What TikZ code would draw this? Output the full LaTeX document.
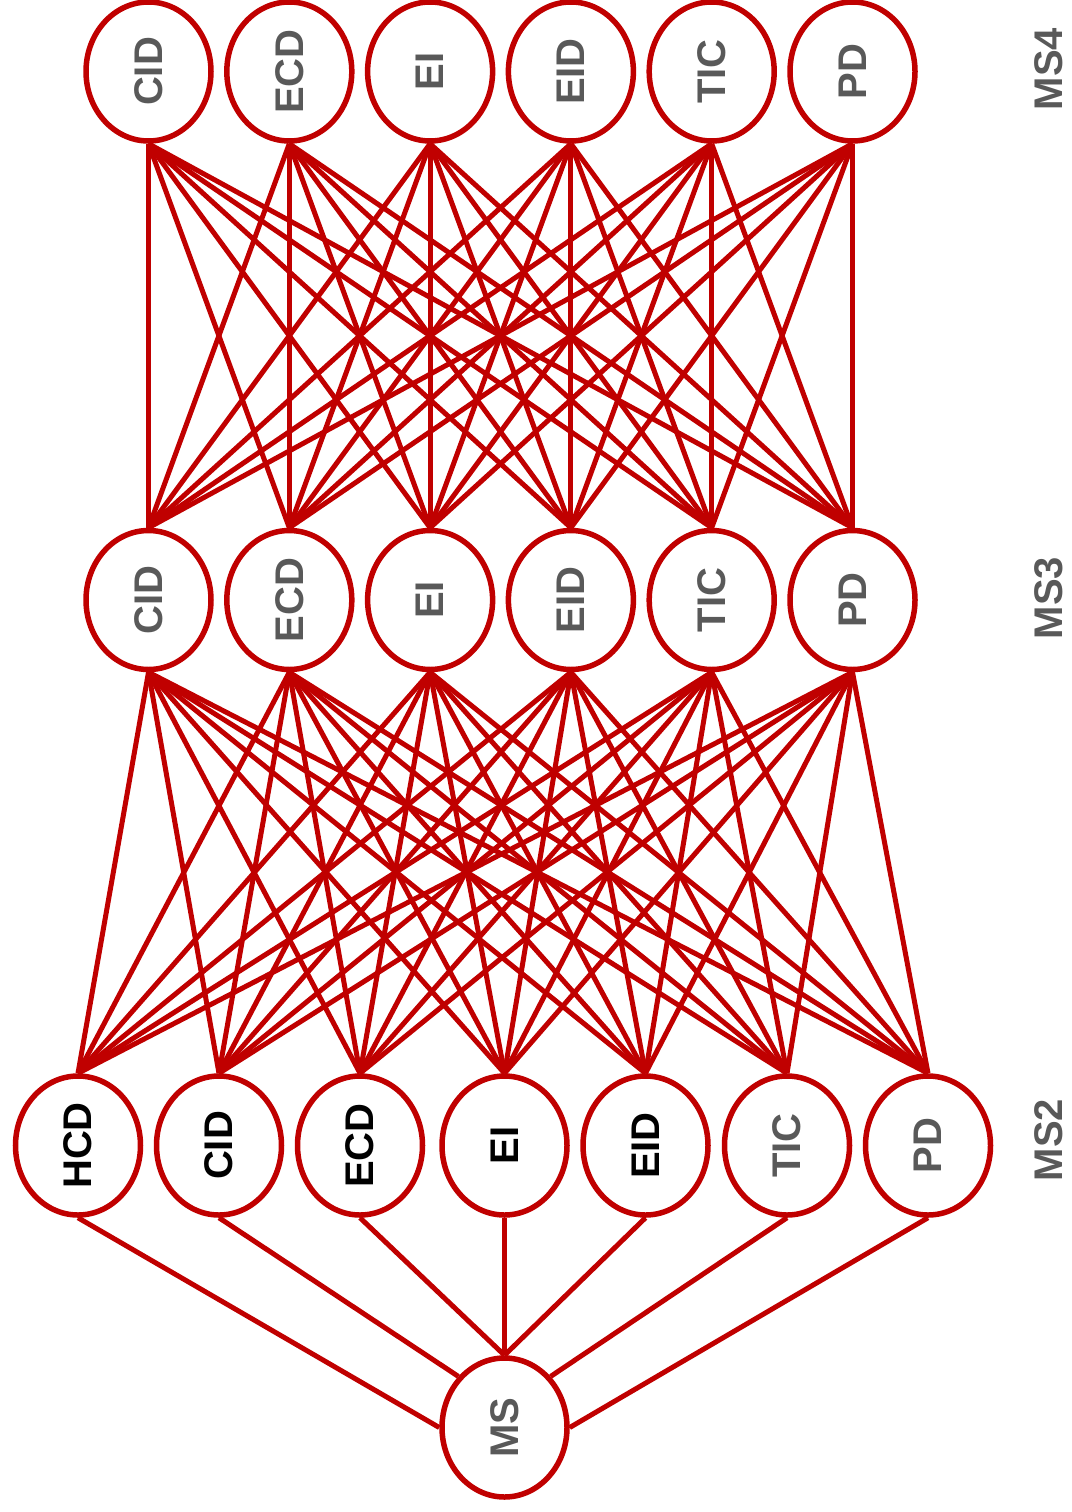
\documentclass[tikz,border=0pt]{standalone}
\usepackage{fontspec}
\setmainfont{Liberation Sans}
\usetikzlibrary{shapes.geometric}
\definecolor{myred}{RGB}{192,0,0}
\definecolor{mygrey}{RGB}{89,89,89}
\begin{document}
\begin{tikzpicture}[x=1pt,y=-1pt,
  nd/.style={ellipse, draw=myred, line width=5.5pt, fill=white,
    minimum width=125pt, minimum height=139pt, inner sep=0pt,
    text=mygrey, font=\fontsize{40}{48}\selectfont\bfseries},
  blk/.style={text=black},
  lk/.style={draw=myred, line width=5pt},
  lab/.style={inner sep=0pt, text=mygrey, font=\fontsize{40}{48}\selectfont\bfseries}
]
\useasboundingbox (0,0) rectangle (1071,1512);

% MS4 row
\foreach \i/\t in {1/CID,2/ECD,3/EI,4/EID,5/TIC,6/PD}{
  \node[nd] (t\i) at ({148.5+140.8*(\i-1)},71.5) {\rotatebox{90}{\t}};
}
% MS3 row
\foreach \i/\t in {1/CID,2/ECD,3/EI,4/EID,5/TIC,6/PD}{
  \node[nd] (m\i) at ({148.5+140.8*(\i-1)},600) {\rotatebox{90}{\t}};
}
% MS2 row
\node[nd,blk] (b1) at (78,1145.5) {\rotatebox{90}{HCD}};
\node[nd,blk] (b2) at (219,1145.5) {\rotatebox{90}{CID}};
\node[nd,blk] (b3) at (360,1145.5) {\rotatebox{90}{ECD}};
\node[nd,blk] (b4) at (504.5,1145.5) {\rotatebox{90}{EI}};
\node[nd,blk] (b5) at (645.5,1145.5) {\rotatebox{90}{EID}};
\node[nd] (b6) at (787,1145.5) {\rotatebox{90}{TIC}};
\node[nd] (b7) at (928,1145.5) {\rotatebox{90}{PD}};
% MS
\node[nd] (ms) at (504.5,1427.5) {\rotatebox{90}{MS}};

% level labels
\node[lab] (l4) at (1049,69) {\rotatebox{90}{MS4}};
\node[lab] (l3) at (1049,598) {\rotatebox{90}{MS3}};
\node[lab] (l2) at (1049,1140) {\rotatebox{90}{MS2}};

% MS4 -> MS3
\foreach \i in {1,...,6}{
  \foreach \j in {1,...,6}{
    \draw[lk] (t\i.south) -- (m\j.north);
  }
}
% MS3 -> MS2
\foreach \i in {1,...,6}{
  \foreach \j in {1,...,7}{
    \draw[lk] (m\i.south) -- (b\j.north);
  }
}
% MS2 -> MS
\draw[lk] (b1.south) -- (ms.west);
\draw[lk] (b2.south) -- (ms.north west);
\draw[lk] (b3.south) -- (ms.north);
\draw[lk] (b4.south) -- (ms.north);
\draw[lk] (b5.south) -- (ms.north);
\draw[lk] (b6.south) -- (ms.north east);
\draw[lk] (b7.south) -- (ms.east);
\end{tikzpicture}
\end{document}
